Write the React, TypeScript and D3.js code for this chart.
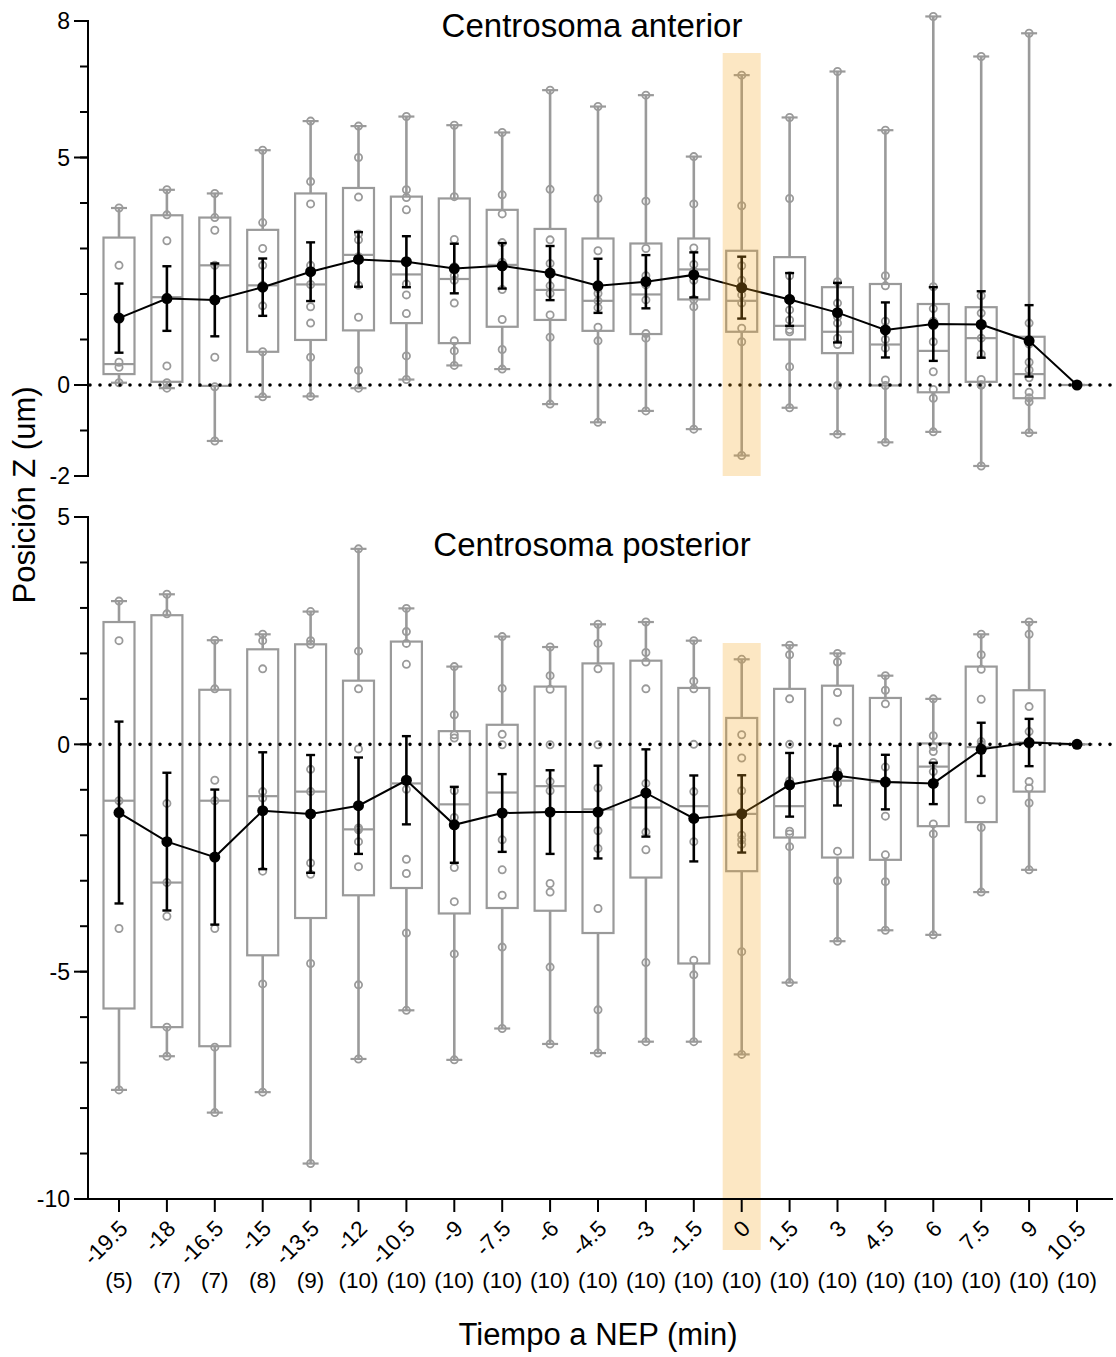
import React from "react";
import * as d3 from "d3";

// ---------- DATA ----------
const categories = ["-19.5","-18","-16.5","-15","-13.5","-12","-10.5","-9","-7.5","-6","-4.5","-3","-1.5","0","1.5","3","4.5","6","7.5","9","10.5"];
const counts = [5,7,7,8,9,10,10,10,10,10,10,10,10,10,10,10,10,10,10,10,10];
const highlightCategory = "0";

// Top panel: Centrosoma anterior
const antMin = [0.05,-0.07,-1.23,-0.26,-0.25,-0.07,0.12,0.43,0.35,-0.42,-0.82,-0.57,-0.97,-1.55,-0.50,-1.08,-1.26,-1.03,-1.78,-1.05,0];
const antQ1 = [0.24,0.07,-0.02,0.73,0.99,1.20,1.36,0.92,1.28,1.43,1.19,1.12,1.88,1.17,1.00,0.70,-0.01,-0.16,0.07,-0.29,0];
const antMed = [0.46,1.93,2.63,2.19,2.21,2.86,2.43,2.33,2.64,2.09,1.85,1.99,2.54,1.85,1.30,1.17,0.89,0.75,1.03,0.24,0];
const antQ3 = [3.24,3.73,3.68,3.41,4.21,4.33,4.14,4.10,3.85,3.43,3.22,3.11,3.22,2.95,2.81,2.15,2.22,1.78,1.71,1.06,0];
const antMax = [3.89,4.29,4.21,5.16,5.80,5.69,5.90,5.71,5.55,6.48,6.12,6.37,5.02,6.81,5.88,6.89,5.60,8.10,7.22,7.73,0];
const antMean = [1.47,1.90,1.87,2.15,2.49,2.76,2.71,2.56,2.62,2.46,2.18,2.27,2.42,2.14,1.88,1.59,1.21,1.34,1.33,0.97,0];
const antSem = [0.76,0.71,0.80,0.63,0.645,0.60,0.56,0.545,0.50,0.595,0.595,0.585,0.495,0.68,0.58,0.655,0.605,0.81,0.73,0.785,0];
const antPoints = [
  [3.89,2.63,0.50,0.39,0.05],
  [4.29,3.74,3.17,1.93,0.42,0.05,-0.07],
  [4.21,3.68,3.40,2.63,0.61,-0.04,-1.23],
  [5.16,3.57,3.00,2.63,2.19,1.74,0.73,-0.26],
  [5.80,4.47,3.98,2.63,2.21,1.72,1.36,0.61,-0.25],
  [5.69,5.00,4.13,3.32,3.19,2.82,2.19,1.49,0.32,-0.07],
  [5.90,4.29,4.12,3.85,2.70,2.22,1.98,1.57,0.64,0.12],
  [5.71,4.14,3.20,2.60,2.40,2.30,1.80,0.97,0.75,0.43],
  [5.55,4.18,3.76,3.13,2.70,2.60,2.10,1.44,0.78,0.35],
  [6.48,4.30,3.19,2.67,2.45,2.18,2.01,1.54,1.05,-0.42],
  [6.12,4.10,2.95,2.12,2.01,1.85,1.70,1.27,0.97,-0.82],
  [6.37,4.04,3.00,2.40,2.29,2.20,1.87,1.13,1.03,-0.57],
  [5.02,3.98,3.01,2.65,2.50,2.40,2.30,1.88,1.72,-0.97],
  [6.81,3.94,2.62,2.30,2.12,1.98,1.80,1.25,0.95,-1.55],
  [5.88,4.10,2.40,1.90,1.65,1.43,1.22,1.17,0.40,-0.50],
  [6.89,2.27,1.80,1.60,1.50,1.36,1.03,0.89,-0.01,-1.08],
  [5.60,2.40,2.18,1.40,1.20,1.00,0.81,0.11,-0.01,-1.26],
  [8.10,2.16,1.68,1.40,1.30,0.95,0.29,-0.10,-0.29,-1.03],
  [7.22,1.96,1.58,1.30,1.03,0.68,0.12,0.00,0.00,-1.78],
  [7.73,1.36,0.90,0.50,0.33,0.16,-0.16,-0.28,-0.37,-1.05],
  [0,0,0,0,0,0,0,0,0,0],
];

// Bottom panel: Centrosoma posterior
const posMin = [-7.60,-6.86,-8.10,-7.65,-9.22,-6.92,-5.85,-6.94,-6.25,-6.59,-6.79,-6.54,-6.54,-6.82,-5.24,-4.33,-4.09,-4.19,-3.25,-2.76,0];
const posQ1 = [-5.81,-6.22,-6.64,-4.64,-3.82,-3.32,-3.16,-3.72,-3.60,-3.66,-4.15,-2.93,-4.82,-2.79,-2.05,-2.49,-2.54,-1.80,-1.71,-1.04,0];
const posMed = [-1.24,-3.04,-1.24,-1.14,-1.04,-1.87,-0.86,-1.32,-1.06,-0.92,-1.43,-1.39,-1.36,-1.53,-1.36,-0.80,-0.83,-0.49,-0.06,0.04,0];
const posQ3 = [2.69,2.84,1.20,2.09,2.20,1.40,2.26,0.29,0.43,1.27,1.78,1.84,1.24,0.58,1.22,1.29,1.02,0.02,1.71,1.19,0];
const posMax = [3.15,3.30,2.29,2.42,2.92,4.30,2.99,1.71,2.37,2.14,2.64,2.69,2.28,1.87,2.18,2.00,1.51,1.00,2.42,2.69,0];
const posMean = [-1.50,-2.14,-2.48,-1.46,-1.53,-1.35,-0.79,-1.77,-1.51,-1.49,-1.49,-1.07,-1.63,-1.53,-0.89,-0.69,-0.83,-0.86,-0.11,0.04,0];
const posSem = [2.0,1.515,1.485,1.285,1.295,1.06,0.97,0.835,0.855,0.92,1.02,0.96,0.945,0.85,0.70,0.655,0.60,0.455,0.585,0.52,0];
const posPoints = [
  [3.15,2.28,-1.24,-4.05,-7.60],
  [3.30,2.87,-1.30,-3.04,-3.78,-6.22,-6.86],
  [2.29,1.22,-0.79,-1.24,-4.05,-6.66,-8.10],
  [2.42,2.28,1.66,-1.04,-1.18,-2.79,-5.27,-7.65],
  [2.92,2.28,2.20,-0.55,-1.04,-2.61,-2.86,-4.82,-9.22],
  [4.30,2.05,1.22,-0.10,-1.84,-1.88,-2.14,-2.69,-5.29,-6.92],
  [2.99,2.48,2.22,1.76,-0.80,-0.99,-2.53,-2.84,-4.15,-5.85],
  [1.71,0.65,0.21,0.14,-1.02,-1.61,-2.71,-3.46,-4.61,-6.94],
  [2.37,1.23,0.22,-0.01,-1.50,-2.10,-2.76,-3.32,-4.46,-6.25],
  [2.14,1.51,1.21,-0.01,-0.82,-1.02,-3.06,-3.25,-4.90,-6.59],
  [2.64,2.22,1.66,-0.01,-0.96,-1.90,-2.29,-3.61,-5.84,-6.79],
  [2.69,2.02,1.81,1.22,-0.86,-1.10,-1.93,-2.32,-4.80,-6.54],
  [2.28,1.39,1.22,0.00,-1.04,-1.60,-2.14,-4.75,-5.07,-6.54],
  [1.87,0.21,-0.30,-1.02,-1.50,-2.00,-2.10,-2.20,-4.56,-6.82],
  [2.18,1.97,1.00,0.00,-0.80,-0.89,-1.91,-1.97,-2.25,-5.24],
  [2.00,1.81,1.14,0.49,-0.60,-0.70,-0.86,-2.35,-3.00,-4.33],
  [1.51,1.19,0.89,-0.50,-0.80,-0.83,-1.58,-2.43,-3.02,-4.09],
  [1.00,0.19,-0.05,-0.16,-0.40,-0.60,-0.86,-1.75,-1.97,-4.19],
  [2.42,1.97,1.65,0.99,0.06,0.00,-0.11,-1.22,-1.83,-3.25],
  [2.69,2.42,0.83,0.28,0.04,0.00,-0.82,-0.96,-1.29,-2.76],
  [0,0,0,0,0,0,0,0,0,0],
];

const antTicksMajor = [8, 5, 0, -2];
const posTicksMajor = [5, 0, -5, -10];

// ---------- LAYOUT ----------
const W = 1116;
const H = 1357;
const axisX = 88;
const rightX = 1113;
const GREY = "#9a9a9a";
const FONT = "'Liberation Sans', Arial, Helvetica, sans-serif";

const x = d3.scalePoint<string>().domain(categories).range([119, 1077]);
const yTop = d3.scaleLinear().domain([-2, 8]).range([476, 21]);
const yBot = d3.scaleLinear().domain([-10, 5]).range([1199, 517]);

type PanelProps = {
  y: d3.ScaleLinear<number, number>;
  mins: number[]; q1: number[]; med: number[]; q3: number[]; maxs: number[];
  means: number[]; sems: number[]; points: number[][];
  majors: number[]; title: string; titleY: number;
  bandTop: number; bandBottom: number;
};

function Panel(p: PanelProps) {
  const { y } = p;
  const [d0, d1] = y.domain();
  const minors = d3.range(Math.ceil(d0), Math.floor(d1) + 1);
  const boxW = 31;
  const capW = 16;
  const ebCap = 9;
  const line = d3.line<number>().x((_, i) => x(categories[i])!).y((m) => y(m));
  const bx = x(highlightCategory)!;
  return (
    <g>
      {categories.map((c, i) => {
        const cx = x(c)!;
        return (
          <g key={"b" + c} stroke={GREY} fill="none" strokeWidth={2.2}>
            <line x1={cx} x2={cx} y1={y(p.maxs[i])} y2={y(p.q3[i])} strokeWidth={2.6} />
            <line x1={cx} x2={cx} y1={y(p.q1[i])} y2={y(p.mins[i])} strokeWidth={2.6} />
            <line x1={cx - capW / 2} x2={cx + capW / 2} y1={y(p.maxs[i])} y2={y(p.maxs[i])} strokeWidth={2.2} />
            <line x1={cx - capW / 2} x2={cx + capW / 2} y1={y(p.mins[i])} y2={y(p.mins[i])} strokeWidth={2.2} />
            <rect x={cx - boxW / 2} width={boxW} y={y(p.q3[i])} height={Math.max(0, y(p.q1[i]) - y(p.q3[i]))} />
            <line x1={cx - boxW / 2} x2={cx + boxW / 2} y1={y(p.med[i])} y2={y(p.med[i])} />
            {p.points[i].map((v, j) => (
              <circle key={j} cx={cx} cy={y(v)} r={3.6} strokeWidth={1.8} />
            ))}
          </g>
        );
      })}
      <path d={line(p.means) || ""} fill="none" stroke="#000" strokeWidth={2} />
      {categories.map((c, i) => {
        const cx = x(c)!;
        const hi = y(p.means[i] + p.sems[i]);
        const lo = y(p.means[i] - p.sems[i]);
        return (
          <g key={"m" + c} stroke="#000">
            <line x1={cx} x2={cx} y1={hi} y2={lo} strokeWidth={2.6} />
            <line x1={cx - ebCap / 2} x2={cx + ebCap / 2} y1={hi} y2={hi} strokeWidth={2.4} />
            <line x1={cx - ebCap / 2} x2={cx + ebCap / 2} y1={lo} y2={lo} strokeWidth={2.4} />
            <circle cx={cx} cy={y(p.means[i])} r={5.5} fill="#000" stroke="none" />
          </g>
        );
      })}
      <line x1={axisX + 2} x2={rightX} y1={y(0)} y2={y(0)} stroke="#000" strokeWidth={3.6}
        strokeDasharray="0 10" strokeLinecap="round" />
      <rect x={bx - 19} width={38} y={p.bandTop} height={p.bandBottom - p.bandTop}
        fill="#F5A623" opacity={0.27} />
      <line x1={axisX} x2={axisX} y1={y(d1)} y2={y(d0)} stroke="#000" strokeWidth={2} strokeLinecap="square" />
      {minors.map((t) => (
        <line key={"mi" + t} x1={axisX - 8} x2={axisX} y1={y(t)} y2={y(t)} stroke="#000" strokeWidth={2} />
      ))}
      {p.majors.map((t) => (
        <g key={"ma" + t}>
          <line x1={axisX - 14} x2={axisX} y1={y(t)} y2={y(t)} stroke="#000" strokeWidth={2} />
          <text x={axisX - 18} y={y(t)} dy="0.36em" textAnchor="end" fontSize={23} fontFamily={FONT}>{t}</text>
        </g>
      ))}
      <text x={592} y={p.titleY} textAnchor="middle" fontSize={33} fontFamily={FONT}>{p.title}</text>
    </g>
  );
}

export default function App() {
  const axisY = yBot(-10);
  return (
    <svg width={W} height={H} style={{ position: "absolute", left: 0, top: 0, display: "block", background: "#fff" }}>
      <rect x={0} y={0} width={W} height={H} fill="#fff" />
      <Panel y={yTop} mins={antMin} q1={antQ1} med={antMed} q3={antQ3} maxs={antMax}
        means={antMean} sems={antSem} points={antPoints} majors={antTicksMajor}
        title="Centrosoma anterior" titleY={37} bandTop={53} bandBottom={476} />
      <Panel y={yBot} mins={posMin} q1={posQ1} med={posMed} q3={posQ3} maxs={posMax}
        means={posMean} sems={posSem} points={posPoints} majors={posTicksMajor}
        title="Centrosoma posterior" titleY={556} bandTop={643} bandBottom={1250} />
      <line x1={axisX - 1} x2={rightX} y1={axisY} y2={axisY} stroke="#000" strokeWidth={2} />
      {categories.map((c, i) => {
        const cx = x(c)!;
        return (
          <g key={"xt" + c} fontFamily={FONT}>
            <line x1={cx} x2={cx} y1={axisY} y2={axisY + 13} stroke="#000" strokeWidth={2} />
            <text transform={`translate(${cx + 10},1230) rotate(-45)`} textAnchor="end" fontSize={22.5}>{c}</text>
            <text x={cx} y={1288} textAnchor="middle" fontSize={22.5}>({counts[i]})</text>
          </g>
        );
      })}
      <text x={598} y={1345} textAnchor="middle" fontSize={31} fontFamily={FONT}>Tiempo a NEP (min)</text>
      <text transform="translate(35,495) rotate(-90)" textAnchor="middle" fontSize={31} fontFamily={FONT}>Posición Z (um)</text>
    </svg>
  );
}
